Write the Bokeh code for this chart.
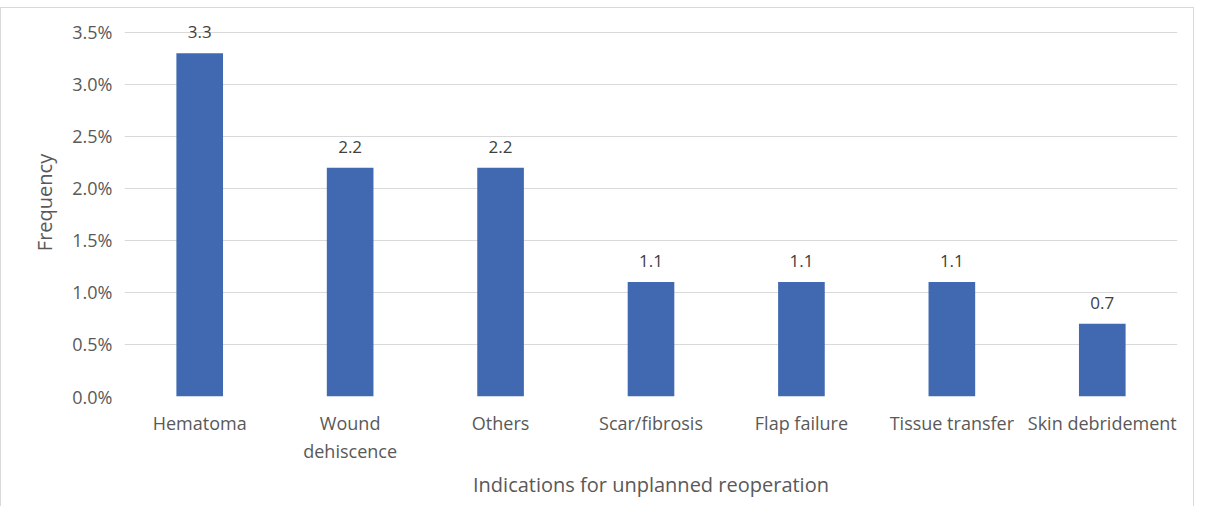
from bokeh.plotting import figure
from bokeh.models import ColumnDataSource, Range1d, FactorRange, PrintfTickFormatter, FixedTicker, LabelSet
from bokeh.core.properties import value
from bokeh.embed import file_html
from bokeh.resources import INLINE

categories = ["Hematoma", "Wound\ndehiscence", "Others", "Scar/fibrosis",
              "Flap failure", "Tissue transfer", "Skin debridement"]
values = [3.3, 2.2, 2.2, 1.1, 1.1, 1.1, 0.7]
labels = ["3.3", "2.2", "2.2", "1.1", "1.1", "1.1", "0.7"]
y_ticks = [0, 0.5, 1.0, 1.5, 2.0, 2.5, 3.0, 3.5]

FONT = "Open Sans"
src = ColumnDataSource(dict(cat=categories, val=values, lab=labels))

# y range extends a little above 3.5% so that the top data label is not clipped
p = figure(x_range=FactorRange(*categories), y_range=Range1d(0, 3.73),
           frame_width=1053, frame_height=388, output_backend="svg", toolbar_location=None,
           min_border_left=123, min_border_right=16, min_border_top=0, min_border_bottom=110)
p.styles = {"margin-top": "7px",
            "border-top": "1px solid #d9d9d9", "border-left": "1px solid #d9d9d9",
            "border-right": "1px solid #d9d9d9"}
p.outline_line_color = None
p.x_range.range_padding = 0
p.x_range.group_padding = 0

p.vbar(x="cat", top="val", width=0.31, source=src, fill_color="#4169b1", line_color=None)
p.add_layout(LabelSet(x="cat", y="val", text="lab", source=src, text_align="center",
                      text_baseline="bottom", y_offset=15, text_font=value(FONT),
                      text_font_size="17px", text_color="#404040"))

p.yaxis.ticker = FixedTicker(ticks=y_ticks)
p.yaxis.formatter = PrintfTickFormatter(format="%.1f%%")
for ax in (p.xaxis[0], p.yaxis[0]):
    ax.axis_line_color = None
    ax.major_tick_line_color = None
    ax.minor_tick_line_color = None
    ax.major_tick_out = 0
    ax.major_tick_in = 0
    ax.minor_tick_out = 0
    ax.minor_tick_in = 0
    ax.major_label_text_font = FONT
    ax.major_label_text_font_size = "18px"
    ax.major_label_text_color = "#595959"
    ax.axis_label_text_font = FONT
    ax.axis_label_text_font_size = "20px"
    ax.axis_label_text_font_style = "normal"
    ax.axis_label_text_color = "#595959"

p.yaxis.axis_label = "Frequency"
p.yaxis.major_label_standoff = 12
p.yaxis.axis_label_standoff = 11
p.xaxis.axis_label = "Indications for unplanned reoperation"
p.xaxis.major_label_standoff = 14
p.xaxis.axis_label_standoff = 5

p.xgrid.grid_line_color = None
p.ygrid.grid_line_color = "#d9d9d9"
p.ygrid.grid_line_width = 1

open("out.html", "w").write(file_html(p, INLINE))
